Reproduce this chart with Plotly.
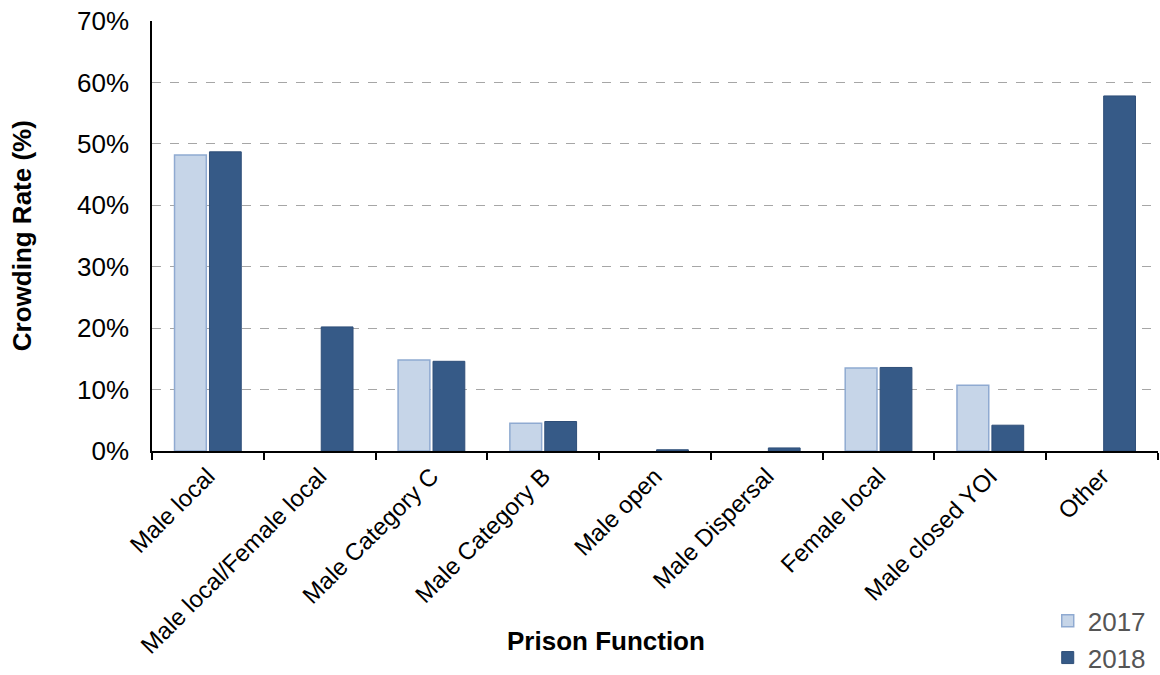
import plotly.graph_objects as go

categories = ["Male local", "Male local/Female local", "Male Category C", "Male Category B",
              "Male open", "Male Dispersal", "Female local", "Male closed YOI", "Other"]
values_2017 = [48.2, None, 14.8, 4.5, None, None, 13.5, 10.7, None]
values_2018 = [48.7, 20.2, 14.6, 4.8, 0.2, 0.5, 13.6, 4.2, 57.8]
y_ticks = [0, 10, 20, 30, 40, 50, 60, 70]
y_tick_labels = [f"{v}%" for v in y_ticks]

FONT = "Liberation Sans, Arial, sans-serif"

fig = go.Figure()
fig.add_trace(go.Bar(
    name="2017", x=categories, y=values_2017,
    marker=dict(color="#C6D5E8", line=dict(color="#8FAAD1", width=1.5)),
))
fig.add_trace(go.Bar(
    name="2018", x=categories, y=values_2018,
    marker=dict(color="#365A87", line=dict(color="#2E4E78", width=1)),
))

fig.update_layout(
    width=1160, height=675,
    margin=dict(l=152, r=2, t=21, b=224, autoexpand=False),
    plot_bgcolor="white", paper_bgcolor="white",
    barmode="group", bargap=0.375, bargroupgap=0.09,
    font=dict(family=FONT, color="#000000"),
    showlegend=True,
    legend=dict(xref="container", yref="container", x=0.992, xanchor="right",
                y=0.115, yanchor="top",
                font=dict(size=26, color="#555555"), bgcolor="rgba(0,0,0,0)",
                tracegroupgap=0, itemwidth=30),
    xaxis=dict(
        automargin=False,
        tickangle=-45, tickfont=dict(size=24, family=FONT),
        showline=True, linecolor="black", linewidth=1.5,
        ticks="outside", tickson="boundaries", ticklen=7, tickcolor="black", tickwidth=1.5,
        showgrid=False,
    ),
    yaxis=dict(
        automargin=False,
        range=[0, 70], tickvals=y_ticks, ticktext=y_tick_labels,
        tickfont=dict(size=26, family=FONT),
        showline=True, linecolor="black", linewidth=1.5,
        showgrid=True, gridcolor="#A6A6A6", griddash="dash", gridwidth=1,
        zeroline=False, ticks="", ticklabelstandoff=16,
    ),
)
fig.add_annotation(x=0.451, xref="paper", y=-0.442, yref="paper", yanchor="middle",
                   text="<b>Prison Function</b>", showarrow=False,
                   font=dict(size=26, family=FONT, color="black"))
fig.add_annotation(x=-0.129, xref="paper", y=0.5, yref="paper", textangle=-90,
                   xanchor="center", yanchor="middle",
                   text="<b>Crowding Rate (%)</b>", showarrow=False,
                   font=dict(size=26, family=FONT, color="black"))

fig.write_html("out.html")
